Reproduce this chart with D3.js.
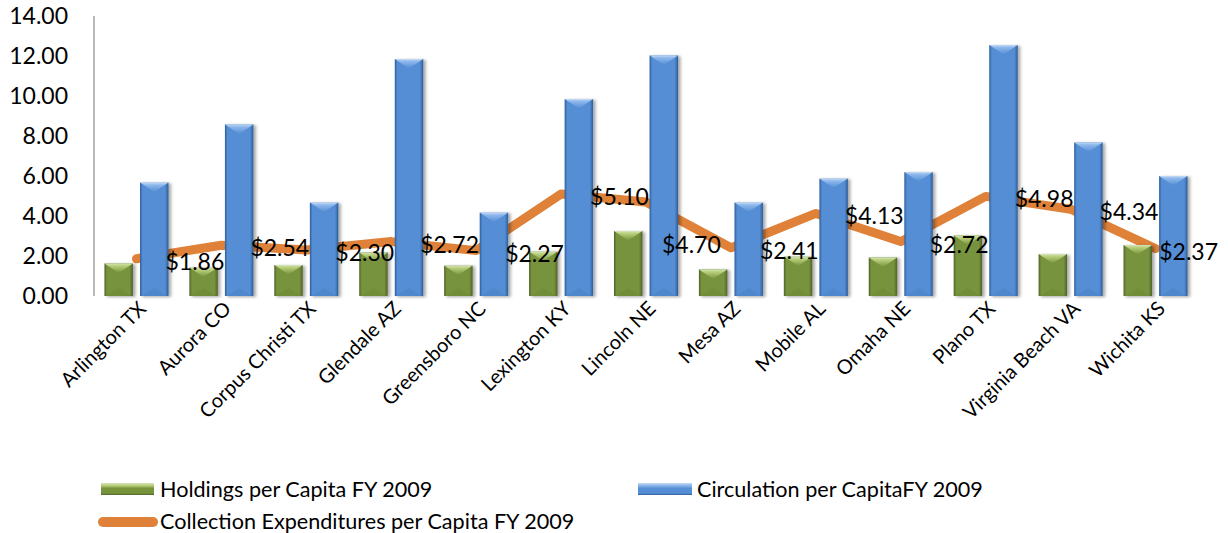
<!DOCTYPE html>
<html><head><meta charset="utf-8">
<script src="https://cdn.jsdelivr.net/npm/d3@7/dist/d3.min.js"></script>
<style>
body{margin:0;background:#fff;}
svg{display:block;font-family:Lato,"Open Sans",sans-serif;}
</style>
</head><body>
<svg id="chart" width="1228" height="533"></svg>
<script>
const categories = ["Arlington TX","Aurora CO","Corpus Christi TX","Glendale AZ","Greensboro NC","Lexington KY","Lincoln NE","Mesa AZ","Mobile AL","Omaha NE","Plano TX","Virginia Beach VA","Wichita KS"];
const holdings = [1.63,1.42,1.55,2.18,1.52,2.22,3.25,1.33,1.97,1.93,3.03,2.10,2.55];
const circulation = [5.67,8.58,4.67,11.85,4.17,9.85,12.03,4.67,5.87,6.20,12.55,7.68,6.00];
const expenditures = [1.86,2.54,2.30,2.72,2.27,5.10,4.70,2.41,4.13,2.72,4.98,4.34,2.37];
const yTickValues = [0,2,4,6,8,10,12,14];
const seriesNames = ["Holdings per Capita FY 2009","Circulation per CapitaFY 2009","Collection Expenditures per Capita FY 2009"];

const W = 1228, H = 533;
const plot = {left:94, right:1198, top:16, bottom:296};
const svg = d3.select("#chart");
const defs = svg.append("defs");

const x0 = d3.scaleBand().domain(categories).range([plot.left, plot.right]).paddingInner(0.246).paddingOuter(0.123);
const x1 = d3.scaleBand().domain(["h","c"]).range([0, x0.bandwidth()]).paddingInner(0.2);
const y = d3.scaleLinear().domain([0,14]).range([plot.bottom, plot.top]);
const cx = c => x0(c) + x0.bandwidth()/2;

// filters
const sh = defs.append("filter").attr("id","barShadow").attr("x","-30%").attr("y","-10%").attr("width","170%").attr("height","130%");
sh.append("feDropShadow").attr("dx",2.5).attr("dy",1).attr("stdDeviation",1.6).attr("flood-color","#000").attr("flood-opacity",0.35);
const gsh = defs.append("filter").attr("id","gridShadow").attr("x","-5%").attr("y","-200%").attr("width","110%").attr("height","500%");
gsh.append("feDropShadow").attr("dx",0).attr("dy",1.5).attr("stdDeviation",0.8).attr("flood-color","#000").attr("flood-opacity",0.25);

const palette = {
  h:{main:"#77933C", dark:"#4F6228", light:"#B9D07C", rim:"#D7E4BD"},
  c:{main:"#558ED5", dark:"#2C5D98", light:"#8EB8EC", rim:"#C6DBF4"}
};
Object.entries(palette).forEach(([k,p])=>{
  const g = defs.append("linearGradient").attr("id","body_"+k).attr("x1",0).attr("x2",1).attr("y1",0).attr("y2",0);
  [[0,p.dark],[0.09,p.main],[0.88,p.main],[1,p.dark]].forEach(([o,c])=>g.append("stop").attr("offset",o).attr("stop-color",c));
  const t = defs.append("linearGradient").attr("id","top_"+k).attr("x1",0).attr("x2",0).attr("y1",0).attr("y2",1);
  [[0,p.rim],[0.25,p.light],[1,p.main]].forEach(([o,c])=>t.append("stop").attr("offset",o).attr("stop-color",c));
  const lg = defs.append("linearGradient").attr("id","leg_"+k).attr("x1",0).attr("x2",0).attr("y1",0).attr("y2",1);
  [[0,p.rim],[0.2,p.light],[0.45,p.main],[0.85,p.main],[1,p.dark]].forEach(([o,c])=>lg.append("stop").attr("offset",o).attr("stop-color",c));
});

// gridlines + y axis
const yAxis = d3.axisLeft(y).tickValues(yTickValues).tickFormat(d3.format(".2f"))
  .tickSize(-(plot.right-plot.left)).tickPadding(26);
const ga = svg.append("g").attr("transform",`translate(${plot.left},0)`).call(yAxis);
ga.select(".domain").remove();
ga.selectAll(".tick line").attr("stroke","#9C9C9C").attr("stroke-width",1.4).attr("filter","url(#gridShadow)");
ga.selectAll(".tick text").attr("fill","#000").attr("font-size",23).attr("font-family","Lato");
svg.append("line").attr("x1",plot.left).attr("x2",plot.left).attr("y1",plot.top).attr("y2",plot.bottom)
  .attr("stroke","#9C9C9C").attr("stroke-width",1.4);

// line (behind bars)
const lineGen = d3.line().x((d,i)=>cx(categories[i])).y(d=>y(d));
svg.append("path").datum(expenditures).attr("d",lineGen).attr("fill","none")
  .attr("stroke","#DF8138").attr("stroke-width",9).attr("stroke-linecap","round").attr("stroke-linejoin","round");

// bars
function drawBar(g, x, w, v, k){
  const top = y(v), bot = y(0), h = bot-top, p = palette[k];
  const bg = g.append("g").attr("filter","url(#barShadow)");
  bg.append("rect").attr("x",x).attr("y",top).attr("width",w).attr("height",h).attr("fill",`url(#body_${k})`);
  const tri = Math.min(9.5, h/2);
  bg.append("path").attr("d",`M${x},${top}L${x+w},${top}L${x+w/2},${top+tri}Z`).attr("fill",`url(#top_${k})`);
  bg.append("path").attr("d",`M${x+1.5},${bot}L${x+w-1.5},${bot}L${x+w/2},${bot-Math.min(8,h/2)}Z`).attr("fill",p.dark).attr("opacity",0.12);
}
const bars = svg.append("g");
categories.forEach((c,i)=>{
  drawBar(bars, x0(c)+x1("h"), x1.bandwidth(), holdings[i], "h");
  drawBar(bars, x0(c)+x1("c"), x1.bandwidth(), circulation[i], "c");
});

// data labels
const labelNudge = {"Lincoln NE":[-13,40]};
const lab = svg.append("g").attr("font-size",23).attr("fill","#000");
expenditures.forEach((v,i)=>{
  const c = categories[i];
  const nd = labelNudge[c] || [0,0];
  const t = lab.append("text").attr("x",cx(c)+29+nd[0]).attr("y",y(v)+3+nd[1]).attr("dy","0.35em").text("$"+v.toFixed(2));
  const bb = t.node().getBBox();
  if (bb.x+bb.width > W-10) t.attr("x", W-10-bb.width);
});

// category labels
const xl = svg.append("g").attr("font-size",20).attr("fill","#000");
categories.forEach(c=>{
  xl.append("text").attr("text-anchor","end").attr("transform",`translate(${cx(c)+6},${305}) rotate(-45)`).attr("dy","0.35em").text(c);
});

// legend
const leg = svg.append("g").attr("font-size",21.6).attr("fill","#000");
leg.append("rect").attr("x",101).attr("y",483).attr("width",53).attr("height",12).attr("fill","url(#leg_h)");
leg.append("text").attr("x",160).attr("y",489).attr("dy","0.35em").text(seriesNames[0]);
leg.append("rect").attr("x",638).attr("y",483).attr("width",54).attr("height",12).attr("fill","url(#leg_c)");
leg.append("text").attr("x",697).attr("y",489).attr("dy","0.35em").text(seriesNames[1]);
leg.append("line").attr("x1",103).attr("x2",153).attr("y1",522).attr("y2",522).attr("stroke","#DF8138").attr("stroke-width",10).attr("stroke-linecap","round");
leg.append("text").attr("x",160).attr("y",521).attr("dy","0.35em").text(seriesNames[2]);
</script>
</body></html>
